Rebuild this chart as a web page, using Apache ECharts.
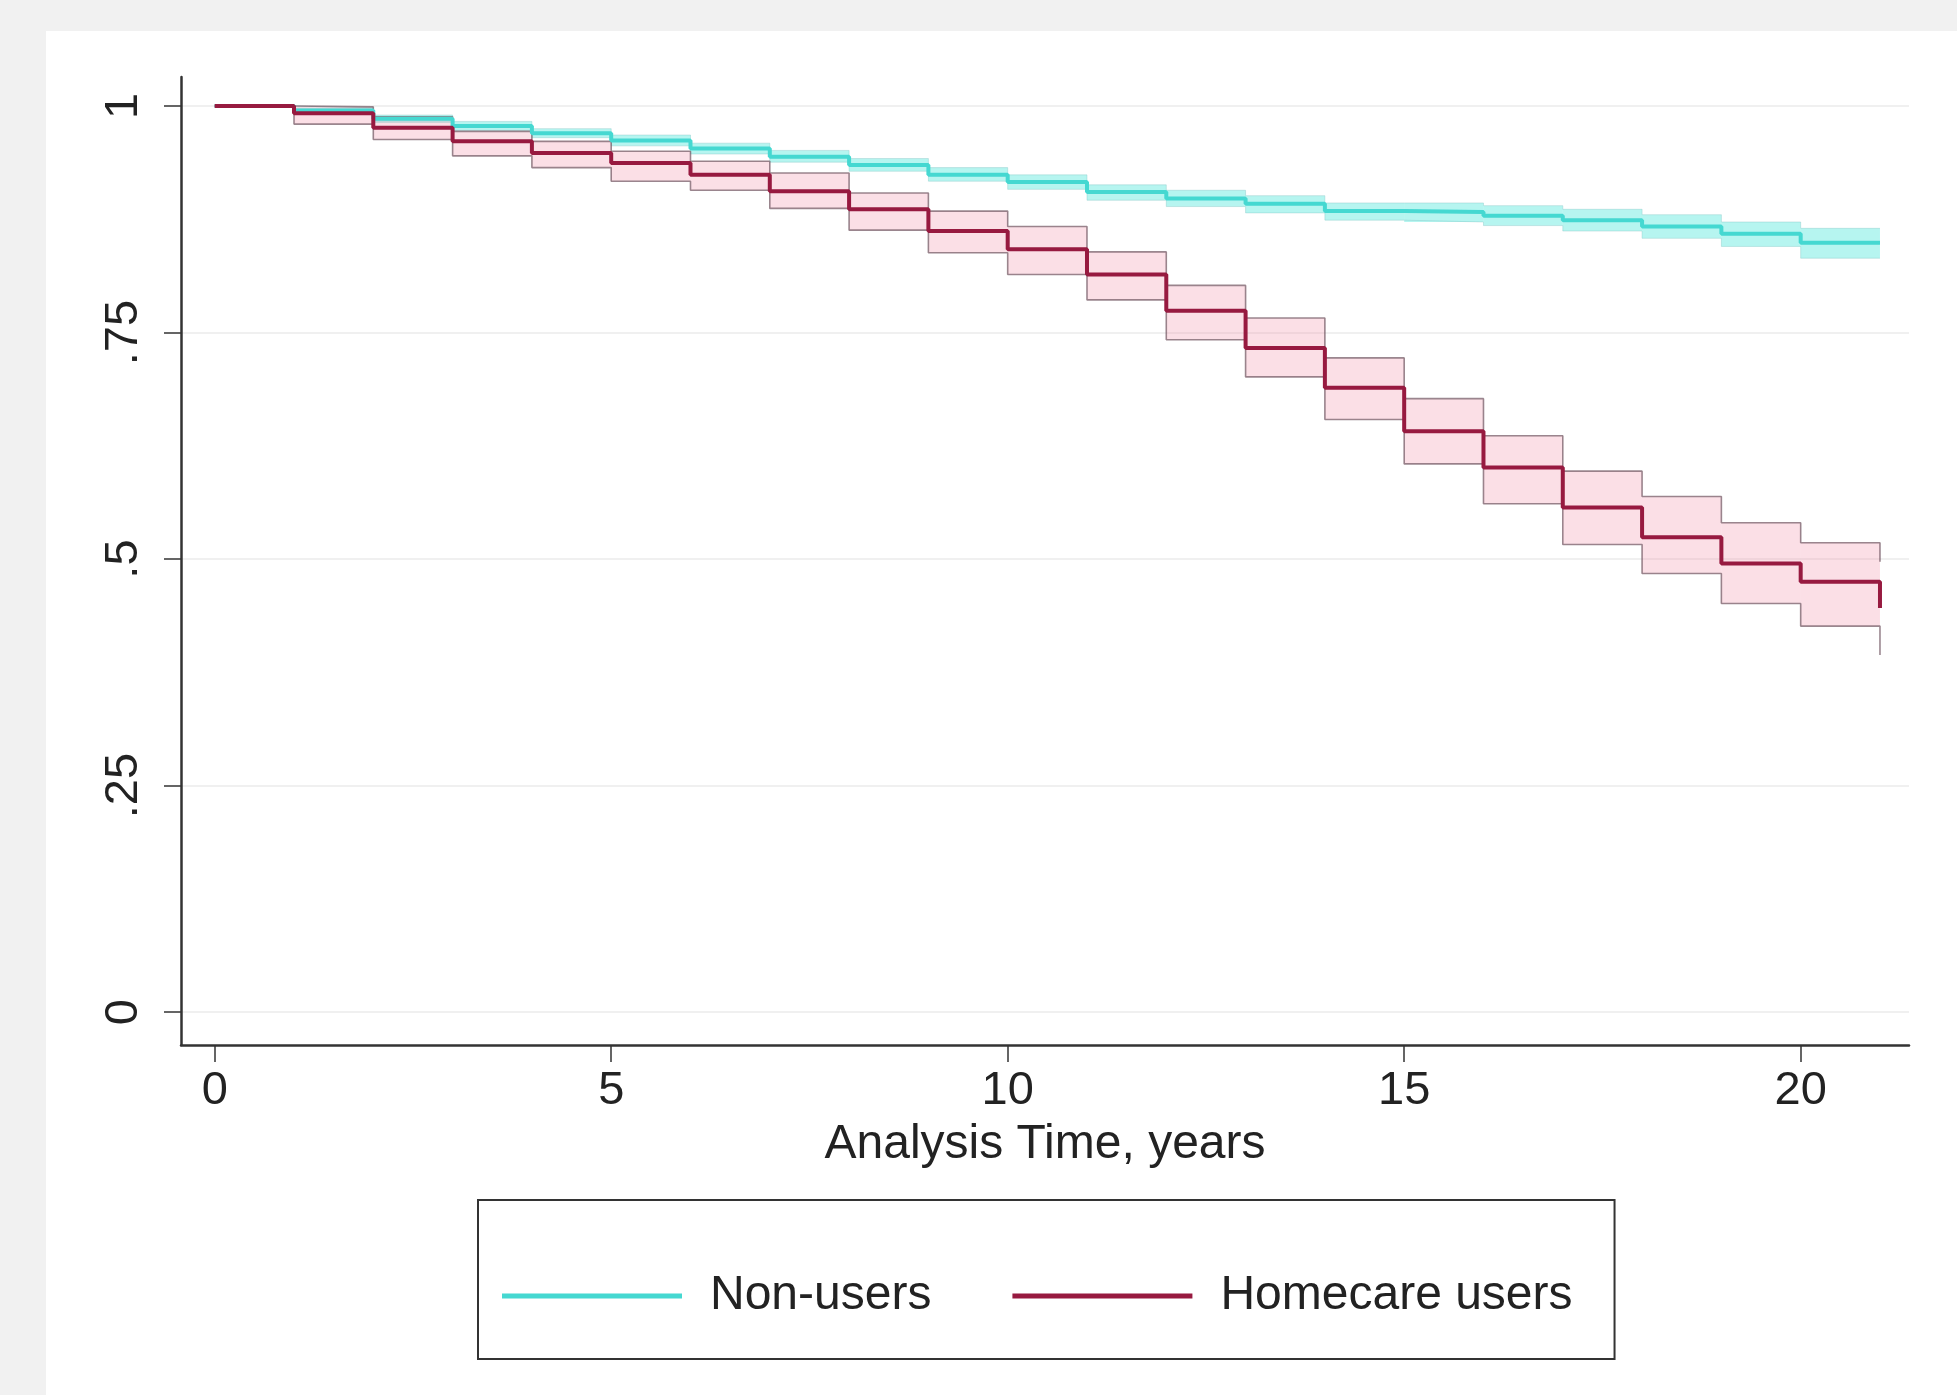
<!DOCTYPE html>
<html>
<head>
<meta charset="utf-8">
<script src="https://cdn.jsdelivr.net/npm/echarts@6/dist/echarts.min.js"></script>
<style>
html,body{margin:0;padding:0;background:#f1f1f1;width:1957px;height:1395px;overflow:hidden;}
#panel{position:absolute;left:46px;top:31px;right:0;bottom:0;background:#ffffff;}
#c{position:absolute;left:0;top:0;width:1957px;height:1395px;}
</style>
</head>
<body>
<div id="panel"></div>
<div id="c"></div>
<script>
// ---- data ----
const years = [0,1,2,3,4,5,6,7,8,9,10,11,12,13,14,15,16,17,18,19,20,21];
const nonUsers  = [1, 0.995, 0.986, 0.978, 0.970, 0.962, 0.953, 0.944, 0.935, 0.924, 0.916, 0.905, 0.898, 0.892, 0.884, 0.883, 0.879, 0.874, 0.867, 0.859, 0.849, 0.849];
const nonLower  = [1, 0.992, 0.982, 0.973, 0.965, 0.956, 0.947, 0.938, 0.928, 0.917, 0.908, 0.896, 0.889, 0.882, 0.874, 0.872, 0.868, 0.862, 0.854, 0.845, 0.832, 0.832];
const nonUpper  = [1, 0.998, 0.990, 0.983, 0.975, 0.968, 0.959, 0.951, 0.942, 0.932, 0.924, 0.913, 0.907, 0.901, 0.893, 0.893, 0.890, 0.886, 0.880, 0.872, 0.865, 0.865];
const homecare  = [1, 0.992, 0.976, 0.961, 0.948, 0.937, 0.924, 0.906, 0.886, 0.862, 0.842, 0.814, 0.774, 0.733, 0.689, 0.641, 0.601, 0.557, 0.524, 0.495, 0.475, 0.446];
const homeLower = [1, 0.980, 0.963, 0.945, 0.932, 0.917, 0.907, 0.887, 0.863, 0.838, 0.814, 0.786, 0.742, 0.701, 0.654, 0.605, 0.561, 0.516, 0.484, 0.451, 0.426, 0.394];
const homeUpper = [1, 0.999, 0.988, 0.972, 0.961, 0.950, 0.939, 0.926, 0.904, 0.884, 0.867, 0.839, 0.802, 0.766, 0.722, 0.677, 0.636, 0.597, 0.569, 0.540, 0.518, 0.497];
const xTicks = [0, 5, 10, 15, 20];
const yTicks = [0, 0.25, 0.5, 0.75, 1];
const yTickLabels = ['0', '.25', '.5', '.75', '1'];
const seriesNames = ['Non-users', 'Homecare users'];
const xTitle = 'Analysis Time, years';

// ---- build ----
const pairs = (arr) => years.map((t, i) => [t, arr[i]]);
// one band cell per step interval: [t0, t1, lower, upper]
const bandCells = (lo, up) => years.slice(0, -1).map((t, i) => [t, years[i + 1], lo[i], up[i]]);
const FONT = '"Liberation Sans", Arial, Helvetica, sans-serif';

function bandSeries(lo, up, fill, z) {
  return {
    type: 'custom', silent: true, z: z,
    encode: {x: [0, 1], y: [2, 3]},
    data: bandCells(lo, up),
    renderItem: function (params, api) {
      const p1 = api.coord([api.value(0), api.value(3)]);
      const p2 = api.coord([api.value(1), api.value(2)]);
      return {
        type: 'rect',
        shape: {x: p1[0], y: p1[1], width: p2[0] - p1[0], height: p2[1] - p1[1]},
        style: {fill: fill}
      };
    }
  };
}
function ciLine(arr, color, width, z) {
  return {type: 'line', step: 'end', symbol: 'none', silent: true, z: z,
          data: pairs(arr), lineStyle: {color: color, width: width}};
}

const chart = echarts.init(document.getElementById('c'), null, {renderer: 'canvas'});
chart.setOption({
  backgroundColor: 'transparent',
  animation: false,
  textStyle: {fontFamily: FONT},
  grid: {left: 181, right: 48, top: 77, bottom: 350, containLabel: false},
  legend: {
    data: seriesNames,
    icon: 'rect',
    left: 478, top: 1200,
    orient: 'horizontal',
    padding: [72, 42, 39, 24],
    itemWidth: 180, itemHeight: 5, itemGap: 81,
    borderColor: '#333', borderWidth: 2,
    backgroundColor: '#ffffff',
    selectedMode: false,
    textStyle: {fontSize: 48, fontFamily: FONT, color: '#222', padding: [0, 0, 0, 23]}
  },
  xAxis: {
    type: 'value', min: -0.425, max: 21.366,
    name: xTitle, nameLocation: 'middle', nameGap: 76,
    nameTextStyle: {fontSize: 48, color: '#222', fontFamily: FONT},
    axisLine: {show: true, onZero: false, lineStyle: {color: '#333', width: 2.5}},
    axisTick: {show: true, customValues: xTicks, length: 17, lineStyle: {color: '#333', width: 1.5}},
    axisLabel: {customValues: xTicks, fontSize: 47, color: '#222', margin: 23, fontFamily: FONT},
    splitLine: {show: false}
  },
  yAxis: {
    type: 'value', min: -0.0363, max: 1.032,
    axisLine: {show: true, onZero: false, lineStyle: {color: '#333', width: 2.5}},
    axisTick: {show: true, customValues: yTicks, length: 17, lineStyle: {color: '#333', width: 1.5}},
    axisLabel: {
      customValues: yTicks, rotate: 90, fontSize: 47, color: '#222', margin: 33, fontFamily: FONT,
      formatter: (v) => { const i = yTicks.findIndex(t => Math.abs(t - v) < 1e-6); return i >= 0 ? yTickLabels[i] : ''; }
    },
    splitLine: {show: true, lineStyle: {color: '#ebebeb', width: 1.5}}
  },
  series: [
    bandSeries(nonLower, nonUpper, 'rgba(64,228,215,0.38)', 2),
    bandSeries(homeLower, homeUpper, 'rgba(240,120,150,0.24)', 3),
    ciLine(nonLower, 'rgba(120,190,190,0.35)', 1, 4),
    ciLine(nonUpper, 'rgba(120,190,190,0.35)', 1, 4),
    ciLine(homeLower, 'rgba(120,95,105,0.75)', 1.6, 4),
    ciLine(homeUpper, 'rgba(120,95,105,0.75)', 1.6, 4),
    {name: seriesNames[0], type: 'line', step: 'end', symbol: 'none', z: 5,
     data: pairs(nonUsers), color: '#45d8d1', lineStyle: {color: '#45d8d1', width: 4}},
    {name: seriesNames[1], type: 'line', step: 'end', symbol: 'none', z: 6,
     data: pairs(homecare), color: '#971a40', lineStyle: {color: '#971a40', width: 4}}
  ]
});
</script>
</body>
</html>
